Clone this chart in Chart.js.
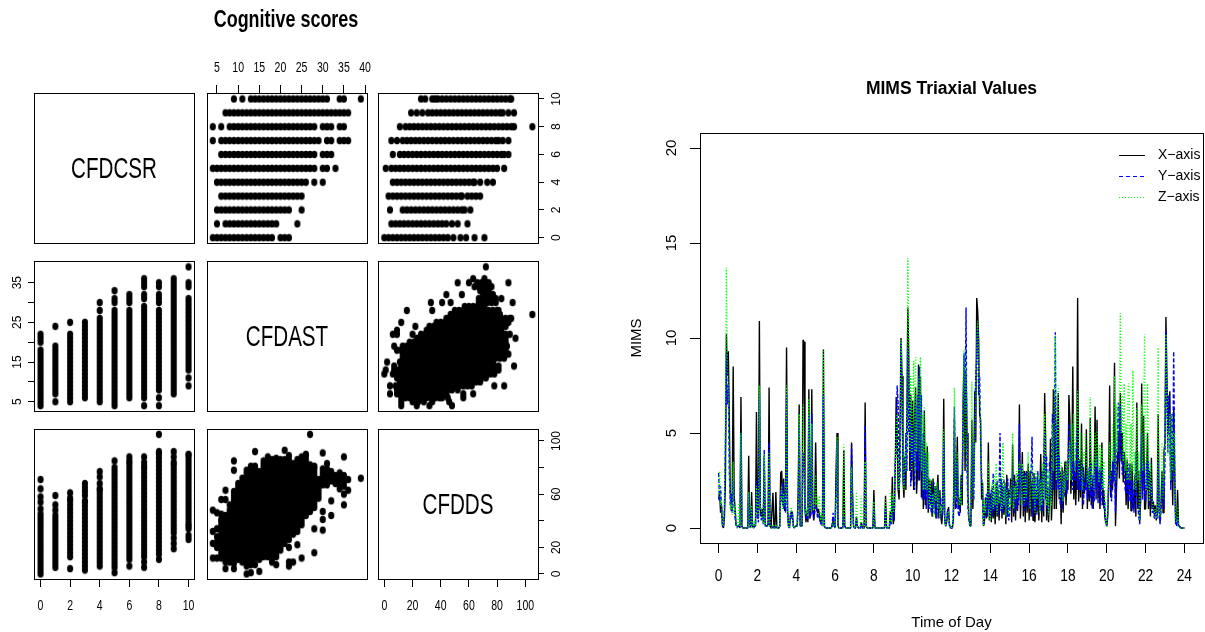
<!DOCTYPE html>
<html><head><meta charset="utf-8">
<style>html,body{margin:0;padding:0;background:#fff;overflow:hidden;width:1205px;height:632px}canvas{position:absolute}</style>
<script src="https://cdn.jsdelivr.net/npm/chart.js@4"></script></head><body>
<script>
// ---------- pairs plot data ----------
const mainTitle = "Cognitive scores";
const variableNames = ["CFDCSR","CFDAST","CFDDS"];
const csrLevels = [0,1,2,3,4,5,6,7,8,9,10];
const astByCsr = [
[4,5,6,7,8,9,10,11,12,13,14,15,16,17,18,20,21,22],
[5,7,8,9,10,11,12,13,14,15,16,17,18,19,24],
[5,6,7,8,9,10,11,12,13,14,15,16,17,18,19,20,21,22,25],
[6,7,8,9,10,11,12,13,14,15,16,17,18,19,20,21,22,23,24,25],
[5,6,7,8,9,10,11,12,13,14,15,16,17,18,19,20,21,22,23,24,25,26,28,30],
[4,5,6,7,8,9,10,11,12,13,14,15,16,17,18,19,20,21,22,23,24,25,26,27,28,30,31,33],
[6,7,8,9,10,11,12,13,14,15,16,17,18,19,20,21,22,23,24,25,26,27,28,30,31,32],
[4,6,7,8,9,10,11,12,13,14,15,16,17,18,19,20,21,22,23,24,25,26,27,28,29,31,32,34,35,36],
[4,6,8,9,10,11,12,13,14,15,16,17,18,19,20,21,22,23,24,25,26,27,28,30,31,32,34,35],
[7,8,9,10,11,12,13,14,15,16,17,18,19,20,21,22,23,24,25,26,27,28,29,30,31,32,33,34,35,36],
[9,11,13,14,15,16,17,18,19,20,21,22,23,24,25,26,27,28,29,30,31,34,35,39]];
const dsByCsr = [
[0,3,6,9,12,15,18,21,24,27,30,33,36,39,42,45,49,54,58,64,71],
[5,8,11,14,17,20,23,26,29,32,35,38,41,44,48,52,59],
[4,13,16,19,22,25,28,31,34,37,40,43,46,49,52,55,57,61],
[3,6,9,12,15,18,21,24,27,30,33,36,39,42,45,48,51,54,55,59,62,65,68],
[6,9,12,15,18,21,24,27,30,33,36,39,42,45,48,51,54,57,60,63,64,68,73,77],
[1,5,8,11,14,17,20,23,26,29,32,35,38,41,44,47,50,53,56,59,62,65,68,71,74,77,80,85],
[6,11,14,17,20,23,26,29,32,35,38,41,44,47,50,53,56,59,62,65,68,71,74,77,80,83,85,88],
[5,9,13,16,19,22,25,28,31,34,37,40,43,46,49,52,55,58,61,64,67,70,73,76,79,81,84,88],
[11,15,18,21,24,27,30,33,36,39,42,45,48,51,54,57,60,63,66,69,72,75,78,81,84,87,90,92,105],
[19,23,27,31,34,37,40,43,46,49,52,55,58,61,64,67,70,73,76,79,82,84,88,92],
[26,29,34,36,38,41,44,47,50,53,56,59,62,65,68,71,74,77,80,83,86,89,90]];
const astLevels = [4,5,6,7,8,9,10,11,12,13,14,15,16,17,18,19,20,21,22,23,24,25,26,27,28,29,30,31,32,33,34,35,36,39];
const dsByAst = [
[12,23,32,48],
[12,20,24,28,34,46],
[12,15,18,21,24,27,30,33,36,39,41,45,56],
[4,9,12,15,18,21,24,27,30,33,36,39,42,44,56,63],
[9,12,15,18,21,24,27,30,33,36,39,42,45,48,52],
[4,8,11,14,17,20,23,26,29,32,35,38,41,44,47,50,53,56,59,62,78,85],
[11,14,17,20,23,26,29,32,35,38,41,44,47,50,53,56,59,62,65,68],
[9,12,15,18,21,24,27,30,33,36,39,42,45,48,51,54,57,60,63,66,69,72],
[0,6,9,12,15,18,21,24,27,30,33,36,39,42,45,48,51,54,57,60,63,66,69,72,75,78],
[1,7,10,13,16,19,22,25,28,31,34,37,40,43,46,49,52,55,58,61,64,67,70,73,76,79,81],
[7,12,15,18,21,24,27,30,33,36,39,42,45,48,51,54,57,60,63,66,69,72,75,78,81,92],
[2,11,14,17,20,23,26,29,32,35,38,41,44,47,50,53,56,59,62,65,68,71,74,77],
[13,16,19,22,25,28,31,34,37,40,43,46,49,52,55,58,61,64,67,70,73,76,79,82,85],
[13,16,19,22,25,28,31,34,37,40,43,46,49,52,55,58,61,64,67,70,73,76,79,82,85,88],
[9,12,15,18,21,24,27,30,33,36,39,42,45,48,51,54,57,60,63,66,69,72,75,78,81,84,86],
[7,13,16,19,22,25,28,31,34,37,40,43,46,49,52,55,58,61,64,67,70,73,76,79,82,85,87],
[18,21,24,27,30,33,36,39,42,45,48,51,54,57,60,63,66,69,72,75,78,81,84,86],
[23,26,29,32,35,38,41,44,47,50,53,56,59,62,65,68,71,74,77,80,83,86,93],
[6,9,20,26,29,32,35,38,41,44,47,50,53,56,59,62,65,68,71,74,77,80,83,86,89],
[9,30,33,36,39,42,45,48,51,54,57,60,63,66,69,72,75,78,81,83],
[22,32,35,38,41,44,47,50,53,56,59,62,65,68,71,74,77,80,83,86],
[12,37,40,43,46,49,52,55,58,61,64,67,70,73,76,79,82,85,88],
[44,47,50,53,56,59,62,65,68,71,74,77,80,83,86,89,90],
[47,50,53,56,59,62,65,68,71,74,77,80,82,105],
[16,34,50,53,56,59,62,65,68,71,74,77,80,81],
[57,60,63,66,69,71],
[33,41,47,67,70,73,76,79,91],
[67,70,73,76,79,83],
[44,55,70,72,75,77],
[68,71,74],
[64,67,70,73,76],
[52,60,66,69,72,74,88],
[63,71],
[72]];
const csrTicks = [0,2,4,6,8,10];
const astTicks = [5,10,15,20,25,30,35,40];
const astLeftTicks = [5,10,15,20,25,30,35];
const astLeftLabels = [5,15,25,35];
const dsTicks = [0,20,40,60,80,100];
const dsRightLabels = [0,20,60,100];

// ---------- time series data (one value per 3 minutes, one line per hour, then the reading at 24h) ----------
const seriesNames = ["X\u2212axis","Y\u2212axis","Z\u2212axis"];
const xAxisValues = [
1.5,1.9,0.8,1.2,0.1,0,0.6,2.5,10.2,8.0,9.3,5.7,1.9,0.9,1.4,8.5,1.7,1.0,0.2,0.1,
0.1,0.1,0,6.9,0.1,0,0,0,0,0,0,3.8,0.1,0,1.9,0.1,0,0.2,0.1,6.1,
0.9,0.5,10.9,1.0,0.6,1.0,0.3,3.8,0.2,0.1,0.1,0.2,7.4,0.1,0,0,1.85,0,0,1.9,
0,0,0,0.1,2.9,3.0,1.2,2.6,0.9,1.8,9.5,1.0,0.1,0,0.6,0.9,0.8,0.1,0,0.1,
0.1,0.1,1.9,6.5,0.2,0.1,0.1,9.9,9.8,1.0,0.3,0.9,0.3,7.3,0.5,0.8,7.3,1.1,0.4,1.0,
4.5,1.1,0.8,1.0,0.6,0.3,0.7,0.1,9.4,0.1,0,0,0,0,0,0,0,0.1,0.4,0.1,
0,2.9,5.0,0.1,0,0,0,0,0,4.1,0.1,0,0,0,0,0,0,4.5,1.9,0.1,
0,0,0.6,0.1,0,0,0,0.3,0.1,0,0,6.6,0.1,0,0,0,0,0,0,0,
2.0,0.1,0,0,0,0,0,0,0,0,0,0,1.7,0.1,0,0,0,0.9,0.3,2.7,
0.2,0.6,3.0,6.9,5.0,2.0,1.5,5.5,10.0,8.0,2.5,1.6,3.8,2.0,6.0,11.6,9.0,3.0,7.0,2.5,
6.7,2.0,6.0,7.4,1.8,3.0,8.6,2.5,8.0,1.6,4.5,1.0,6.2,1.2,3.0,4.3,0.8,2.6,1.2,2.5,
0.6,2.6,1.0,2.2,0.5,1.8,2.8,0.5,2.0,0.6,0.2,1.0,6.8,0.5,0.1,0.3,0.8,1.1,0.1,0.1,
0,0,0.5,5.8,1.0,2.4,4.8,1.0,1.6,0.8,2.8,1.2,6.7,9.1,3.0,8.2,5.0,1.8,0.5,0.2,
0.1,5.7,1.0,3.0,7.2,4.5,12.1,11.4,9.9,6.0,5.7,1.5,2.4,0.1,0.4,1.6,0.5,1.0,4.5,0.4,
1.8,0.3,2.2,0.5,1.6,0.2,2.4,0.6,2.0,0.4,1.6,2.6,0.5,2.2,0.7,2.4,0.2,2.8,0.6,2.0,
1.6,2.6,0.3,4.4,0.6,2.8,0.4,2.4,0.9,2.0,6.5,0.5,1.8,4.0,0.6,3.0,0.3,3.0,0.8,3.4,
0.4,3.0,0.6,2.5,0.4,2.9,0.3,2.0,0.8,2.6,0.4,1.8,3.9,0.3,3.0,0.6,7.1,4.7,0.4,2.2,
0.3,1.5,4.7,0.4,1.8,7.3,1.0,7.0,1.0,3.2,7.1,1.5,3.0,0.2,3.2,0.8,2.6,3.5,1.2,2.5,
2.0,7.0,5.7,1.8,3.0,8.5,1.5,3.4,1.2,2.8,12.1,1.4,3.6,1.6,5.5,1.0,3.2,1.8,2.4,5.2,
1.0,3.0,1.4,5.8,1.2,2.6,1.0,2.4,6.4,1.5,5.7,1.6,3.0,1.0,2.6,4.5,1.2,2.0,0.6,0.3,
0.1,0.6,2.5,7.5,1.6,3.0,2.0,4.0,8.7,0.1,2.0,3.5,5.0,2.6,7.1,3.5,5.0,2.4,4.0,3.4,
1.2,3.6,1.0,2.2,3.4,0.9,3.4,1.2,1.0,2.8,0.6,6.6,1.0,3.0,0.3,1.5,7.6,2.0,5.9,1.0,
1.0,2.5,5.0,1.0,3.0,0.6,3.7,1.0,1.4,0.7,1.2,0.4,0.8,6.0,1.0,0.3,1.5,3.0,0.8,4.0,
4.5,11.1,8.0,5.0,6.0,7.2,2.4,4.0,1.2,6.3,3.0,0.3,0.2,2.0,0.1,0.1,0,0,0,0,
0];
const yAxisValues = [
2.9,1.4,2.2,0.9,0.1,0.1,1.0,4.5,9.2,6.5,7.5,3.0,1.2,1.8,0.8,2.5,1.0,0.5,0.1,0,
0.1,0.2,0.1,5.0,0.1,0,0,0,0,0,0,1.8,0.1,0,1.0,0.1,0,0.1,0.1,2.5,
0.6,0.3,7.0,0.8,0.4,0.6,0.2,4.1,0.1,0.1,0.1,0.1,4.5,0.1,0,0,0.1,0,0,0.1,
0,0,0,0.1,2.0,1.4,2.4,1.0,1.8,0.8,7.0,0.8,0.1,0,0.8,0.5,0.8,0.1,0,0.1,
0.1,0.1,1.2,5.5,0.1,0.1,0.1,4.0,3.0,1.2,0.5,0.7,0.4,6.0,0.6,0.6,6.0,0.9,0.5,0.8,
1.2,1.0,0.5,0.7,0.5,0.2,0.4,0.1,7.0,0.1,0,0,0,0,0,0,0,0.2,0.8,0.1,
0,1.5,4.6,0.1,0,0,0,0,0,0.6,0.1,0,0,0,0,0,0,4.4,1.2,0.1,
0,0,0.5,0.1,0,0,0,0.2,0,0,0,5.4,0.1,0,0,0,0,0,0,0,
1.0,0,0,0,0,0,0,0,0,0,0,0,1.0,0,0,0,0,0.7,0.2,1.5,
1.0,0.4,3.5,4.0,7.5,6.5,2.0,2.8,9.8,7.0,3.5,2.2,2.5,5.0,3.0,9.5,5.0,6.5,2.2,5.5,
3.5,5.0,2.0,6.5,3.0,7.0,2.5,8.5,3.0,7.0,1.5,5.0,1.5,4.0,1.0,3.5,1.8,1.0,2.4,0.8,
1.8,0.8,2.4,0.7,2.0,0.5,2.2,1.5,0.8,1.6,0.5,0.8,4.5,0.3,0.1,0.5,1.0,0.6,0.1,0,
0,0.1,1.0,6.4,2.0,1.0,3.5,0.8,0.6,1.2,2.0,2.4,5.5,9.2,6.0,11.6,3.0,1.0,0.3,0.1,
0.1,4.5,2.5,1.5,6.0,8.0,9.0,10.5,7.0,8.0,4.5,2.8,1.5,0.1,0.7,1.0,1.8,0.6,2.0,1.0,
0.8,2.0,0.6,2.9,0.9,1.9,1.0,2.5,0.7,1.8,5.0,0.9,2.4,0.8,2.6,1.1,2.2,0.6,2.6,0.4,
0.9,2.0,1.4,3.0,1.2,0.8,2.5,1.0,2.8,1.2,5.5,1.5,2.8,3.2,1.4,0.9,2.9,1.2,3.0,1.0,
1.2,2.0,2.8,4.8,0.6,2.4,1.0,2.7,0.7,3.0,1.2,2.6,0.9,3.0,0.9,3.6,5.0,1.5,3.8,0.8,
1.0,3.5,1.5,3.0,6.0,2.0,4.5,10.3,2.0,5.5,2.0,3.8,1.2,2.4,1.0,3.0,1.6,2.6,3.0,1.8,
3.0,5.5,4.0,3.0,4.5,2.0,3.5,2.5,3.0,5.2,2.0,3.6,2.0,3.0,2.0,3.4,1.2,2.6,2.0,3.0,
1.5,2.2,3.2,1.6,3.4,1.0,2.8,1.4,3.5,2.0,3.8,1.3,2.6,3.2,1.2,3.2,2.4,1.0,1.4,0.2,
0.1,0.8,2.2,3.0,2.6,1.4,3.5,2.4,4.5,0.8,3.0,5.0,6.6,3.5,6.5,4.6,2.8,4.0,3.0,2.0,
1.8,3.0,1.4,3.4,1.4,2.5,1.0,2.5,0.8,1.5,4.0,2.0,1.2,0.6,0.2,2.0,5.0,1.5,3.4,2.0,
1.4,3.5,2.0,3.5,1.2,2.2,2.4,0.8,1.0,0.5,0.8,0.7,0.5,3.5,0.6,0.2,1.0,2.0,2.6,1.0,
3.5,10.4,6.5,4.0,7.0,5.0,2.0,6.0,2.5,9.3,3.5,0.2,0.1,0.6,0.1,0.1,0,0,0,0,
0];
const zAxisValues = [
1.8,3.0,1.2,1.5,0.2,0.1,1.4,6.0,13.7,9.0,7.0,3.5,1.0,1.3,0.7,3.5,0.8,1.2,0.2,0,
0.2,1.4,0.1,5.0,0.1,0,0,0,0,0,0,1.9,0.1,0,1.2,0.1,0,0.4,0.1,2.2,
1.0,0.6,7.5,1.0,1.1,0.4,0.2,3.9,0.1,0.1,0.1,0.1,4.0,0.1,0,0,0.2,0,0,0.2,
0,0,0,0.1,1.6,2.2,1.0,1.8,1.2,1.5,7.5,0.7,0.1,0,0.9,1.1,0.6,0.1,0,0.1,
0.1,0.1,1.5,6.0,0.1,0.1,0.1,6.5,4.0,1.3,0.7,1.1,0.6,6.8,0.9,1.0,5.5,1.2,0.9,1.1,
2.8,1.2,1.6,1.0,1.7,0.4,0.8,0.1,9.3,0.1,0,0,0,0,0,0,0,0.1,0.3,0.1,
0,1.8,4.8,0.1,0,0,0,0,0,4.4,0.3,0,0,0,0,0,0,3.2,1.8,0.1,
0,0,1.9,0.1,0,0,0,1.7,0.1,0,0,3.5,0.1,0,0,0,0,0,0,0,
1.4,0,0,0,0,0,0,0,0,0,0,0,1.5,0,0,0,0,1.9,0.3,1.8,
0.8,1.0,2.5,5.5,6.0,3.0,2.0,4.0,9.9,9.0,3.0,2.0,4.0,3.0,6.5,14.2,10.0,4.0,8.0,3.0,
5.0,8.8,3.0,9.0,4.0,5.5,8.0,3.5,9.0,3.0,6.0,2.0,6.4,2.0,4.5,2.0,4.0,1.2,2.6,1.0,
1.2,1.8,0.6,2.2,1.4,2.4,1.0,2.0,0.6,1.2,0.8,1.2,5.2,0.2,0.1,0.6,0.7,0.9,0.1,0,
0,0.1,0.8,7.4,1.5,3.0,4.0,2.2,1.2,2.0,1.2,4.0,7.0,9.4,4.0,8.5,6.0,1.5,0.4,0.1,
0.1,7.7,1.5,2.5,4.5,6.5,10.0,10.9,9.6,7.0,6.0,3.0,2.0,0.1,1.5,0.8,1.4,1.6,3.5,0.7,
0.4,1.5,2.4,1.0,2.8,1.2,3.4,0.8,2.2,1.3,3.0,1.5,1.0,4.5,1.2,2.4,0.6,2.0,1.6,0.7,
2.2,1.2,2.6,5.0,1.0,2.2,1.5,3.0,1.6,3.2,3.5,2.5,1.2,3.4,2.6,1.3,2.8,1.6,2.4,4.0,
2.6,1.0,2.5,3.4,1.5,2.6,0.8,3.0,1.5,2.0,2.8,0.8,2.5,1.2,3.4,1.5,6.0,3.0,1.2,3.0,
0.7,3.0,2.0,1.2,5.5,3.0,7.0,10.1,2.5,4.5,7.5,2.8,1.6,3.5,2.8,1.4,3.0,2.0,3.6,2.6,
2.5,4.0,4.5,2.5,5.5,3.5,6.0,3.0,4.0,5.0,7.2,3.5,2.6,5.0,3.0,2.0,4.0,3.2,5.0,3.5,
2.4,3.0,2.0,6.9,2.2,3.0,3.6,2.0,5.0,3.2,5.2,3.5,2.4,4.4,3.0,4.2,2.0,3.5,1.5,0.2,
0.1,1.0,3.0,4.5,2.5,4.0,5.5,3.5,8.0,2.5,6.5,4.0,6.0,7.0,11.3,5.0,7.0,3.5,7.6,3.0,
5.5,2.5,7.5,7.6,2.5,5.5,3.0,8.3,2.0,4.0,2.0,6.3,2.5,4.0,0.4,4.0,6.5,3.0,6.0,10.2,
3.0,2.0,7.6,3.8,1.4,3.4,1.8,1.5,1.0,0.8,1.0,0.5,1.0,9.5,1.2,0.6,2.0,4.5,1.5,3.0,
5.0,10.2,7.5,3.8,4.5,6.0,2.5,6.0,3.0,5.0,5.0,0.4,0.3,1.2,0.1,0.1,0,0,0,0,
0];
const hourTicks = [0,2,4,6,8,10,12,14,16,18,20,22,24];
const mimsTicks = [0,5,10,15,20];

// ---------- layout (page pixels) ----------
Chart.defaults.animation = false;
const REG = '"Liberation Sans",sans-serif';
const COLS = [34,207,378], ROWS = [93,261,429], PW = 160, PH = 150, M = 100;
const XR = {csr:[-0.44,10.37], ast:[2.64,40.46], ds:[-4.47,109]};
const YR = {csr:[-0.38,10.43], ast:[2.66,40.47], ds:[-3.76,109]};

const dot = document.createElement('canvas'); dot.width = 8; dot.height = 9;
{const c = dot.getContext('2d'); c.fillStyle = '#000'; c.beginPath(); c.ellipse(4,4.5,3.05,3.75,0,0,Math.PI*2); c.fill();}

function pairs(levels, lists, flip){
  const out = [];
  levels.forEach((l,i)=>lists[i].forEach(v=>out.push(flip?{x:v,y:l}:{x:l,y:v})));
  return out;
}

function squeezed(ctx, text, cx, cy, font, sx){
  ctx.save(); ctx.translate(cx,cy); ctx.scale(sx,1);
  ctx.font = font; ctx.fillStyle = '#000'; ctx.textAlign = 'center'; ctx.textBaseline = 'middle';
  ctx.fillText(text,0,0); ctx.restore();
}

const panelPlugin = {
  id:'panel',
  beforeDraw(chart){
    const o = chart.options.plugins.panel;
    if(o.rotY !== undefined){
      chart.scales.y.getLabelItems().forEach(it=>{
        it.options.textAlign='center'; it.options.textBaseline='middle';
        it.options.rotation=-Math.PI/2;
        it.options.translation=[o.rotY, it.options.translation[1]];
        it.textOffset = 0;
      });
    }
  },
  afterDraw(chart){
    const o = chart.options.plugins.panel, a = chart.chartArea, ctx = chart.ctx;
    ctx.save(); ctx.strokeStyle='#000'; ctx.lineWidth=1; ctx.setLineDash([]);
    ctx.strokeRect(a.left+.5,a.top+.5,a.right-a.left,a.bottom-a.top); ctx.restore();
    (o.texts||[]).forEach(t=>squeezed(ctx,t.text,t.x,t.y,t.font,t.sx));
    if(o.squeeze){
      const s = chart.scales.x;
      s.ticks.forEach(t=>{ if(t.label) squeezed(ctx,String(t.label),s.getPixelForValue(t.value),o.squeeze.cy,o.squeeze.font,o.squeeze.sx); });
    }
  }
};

function axis(spec, range, isY){
  if(!spec) return {display:false,min:range[0],max:range[1]};
  const shown = spec.shown || spec.ticks;
  return {
    type:'linear', display:true, position:spec.pos, min:range[0], max:range[1],
    border:{display:false},
    grid:{drawOnChartArea:false,drawTicks:true,tickLength:spec.tl,tickColor:'#000',tickWidth:1},
    ticks:{display:!spec.squeeze,autoSkip:false,maxRotation:0,color:'#000',padding:spec.pad,font:{family:spec.family,size:spec.size},
      callback:v=>shown.includes(v)?String(v):''},
    title:spec.title||{display:false},
    afterBuildTicks:s=>{s.ticks=spec.ticks.map(v=>({value:v}));},
    afterFit:s=>{ if(isY) s.width=spec.room; else s.height=spec.room; }
  };
}

function scatterPanel(col,row,data,xName,yName,xSpec,ySpec,texts){
  const cv = document.createElement('canvas');
  const L = COLS[col]-M, T = ROWS[row]-M;
  cv.width = PW+2*M; cv.height = PH+2*M;
  cv.style.left = L+'px'; cv.style.top = T+'px';
  document.body.appendChild(cv);
  const xs = xSpec && Object.assign({room:M},xSpec), ys = ySpec && Object.assign({room:M},ySpec);
  const panelOpts = {texts:(texts||[]).map(t=>Object.assign({},t,{x:t.x-L,y:t.y-T}))};
  if(ySpec) panelOpts.rotY = ySpec.center-L;
  if(xSpec) panelOpts.squeeze = {cy:xSpec.cy-T,font:'14px '+REG,sx:0.75};
  new Chart(cv,{
    type:'scatter',
    data:{datasets:[{data:data,pointStyle:dot,pointRadius:3,pointHoverRadius:3,clip:false}]},
    options:{
      responsive:false,animation:false,
      layout:{autoPadding:false,padding:{
        left:(ys&&ys.pos==='left')?0:M, right:(ys&&ys.pos==='right')?0:M,
        top:(xs&&xs.pos==='top')?0:M, bottom:(xs&&xs.pos==='bottom')?0:M}},
      scales:{x:axis(xs,XR[xName],false),y:axis(ys,YR[yName],true)},
      plugins:{legend:{display:false},tooltip:{enabled:false},panel:panelOpts}
    },
    plugins:[panelPlugin]
  });
}

const tickBase = {family:REG,size:14,tl:8,squeeze:true};
const rotBase = {family:REG,size:12,tl:6,pad:4};
const labelFont = '29px '+REG;

// row 1
scatterPanel(0,0,[], 'csr','csr',null,null,[
  {text:variableNames[0],x:114,y:170,font:labelFont,sx:0.71}]);
scatterPanel(1,0,pairs(csrLevels,astByCsr,true),'ast','csr',
  Object.assign({pos:'top',ticks:astTicks,pad:9,cy:68},tickBase),null,
  [{text:mainTitle,x:286,y:21,font:'bold 23px '+REG,sx:0.78}]);
scatterPanel(2,0,pairs(csrLevels,dsByCsr,true),'ds','csr',null,
  Object.assign({pos:'right',ticks:csrTicks,center:556.7},rotBase));
// row 2
scatterPanel(0,1,pairs(csrLevels,astByCsr,false),'csr','ast',null,
  Object.assign({pos:'left',ticks:astLeftTicks,shown:astLeftLabels,center:17.7},rotBase));
scatterPanel(1,1,[], 'ast','ast',null,null,[{text:variableNames[1],x:287,y:338,font:labelFont,sx:0.71}]);
scatterPanel(2,1,pairs(astLevels,dsByAst,false).map(p=>({x:p.y,y:p.x})),'ds','ast',null,null);
// row 3
scatterPanel(0,2,pairs(csrLevels,dsByCsr,false),'csr','ds',
  Object.assign({pos:'bottom',ticks:csrTicks,pad:11,cy:606},tickBase),null);
scatterPanel(1,2,pairs(astLevels,dsByAst,false),'ast','ds',null,null);
scatterPanel(2,2,[], 'ds','ds',
  Object.assign({pos:'bottom',ticks:dsTicks,pad:11,cy:606},tickBase),
  Object.assign({pos:'right',ticks:dsTicks,shown:dsRightLabels,center:556.7},rotBase),
  [{text:variableNames[2],x:458,y:506,font:labelFont,sx:0.71}]);

// ---------- right-hand time series ----------
(function(){
  const cv = document.createElement('canvas');
  const L=620,T=64,R=1205,B=632;
  cv.width=R-L; cv.height=B-T; cv.style.left=L+'px'; cv.style.top=T+'px';
  document.body.appendChild(cv);
  const area={l:700,t:133,r:1203,b:543};
  const hours = xAxisValues.map((_,i)=>i/20);
  const series = [
    {vals:xAxisValues,color:'#000000',dash:[],order:3},
    {vals:yAxisValues,color:'#0000ff',dash:[4,2],order:2},
    {vals:zAxisValues,color:'#00ff00',dash:[1,2],order:1}];
  const legendPlugin = {id:'mimsLegend',afterDraw(chart){
    const ctx=chart.ctx, ys=[155,176,197];
    series.forEach((s,i)=>{
      ctx.save(); ctx.strokeStyle=s.color; ctx.lineWidth=1; ctx.setLineDash(i===1?[4,3]:s.dash);
      ctx.beginPath(); ctx.moveTo(1119-L,ys[i]+.5-T); ctx.lineTo(1145-L,ys[i]+.5-T); ctx.stroke(); ctx.restore();
      ctx.save(); ctx.fillStyle='#000'; ctx.font='14px '+REG; ctx.textAlign='left'; ctx.textBaseline='middle';
      ctx.fillText(seriesNames[i],1158-L,ys[i]-T); ctx.restore();
    });
  }};
  new Chart(cv,{
    type:'line',
    data:{datasets:series.map((s,i)=>({label:seriesNames[i],order:s.order,tension:0,
      data:s.vals.map((v,j)=>({x:hours[j],y:v})),
      borderColor:s.color,borderWidth:1.4,borderDash:s.dash,borderJoinStyle:'bevel',pointRadius:0,clip:false}))},
    options:{
      responsive:false,animation:false,
      layout:{autoPadding:false,padding:{left:0,bottom:0,right:R-area.r,top:0}},
      scales:{
        x:axis({pos:'bottom',ticks:hourTicks,tl:10,pad:15,family:REG,size:16,squeeze:true,room:B-area.b,
          title:{display:true,text:'Time of Day',color:'#000',font:{family:REG,size:15},padding:{top:0,bottom:0}}},[-0.96,24.96],false),
        y:axis({pos:'left',ticks:mimsTicks,tl:10,pad:4,family:REG,size:15,room:area.l-L,
          title:{display:true,text:'MIMS',color:'#000',font:{family:REG,size:15},padding:{top:8,bottom:0}}},[-0.789,20.79],true)
      },
      plugins:{
        legend:{display:false},tooltip:{enabled:false},
        title:{display:true,text:'MIMS Triaxial Values',color:'#000',font:{family:REG,size:17.5,weight:'bold'},
          padding:{top:15,bottom:(area.t-T)-15-21},fullSize:false},
        panel:{rotY:672-L,squeeze:{cy:577-T,font:'16px '+REG,sx:0.86}}
      }
    },
    plugins:[panelPlugin,legendPlugin]
  });
})();
</script></body></html>
